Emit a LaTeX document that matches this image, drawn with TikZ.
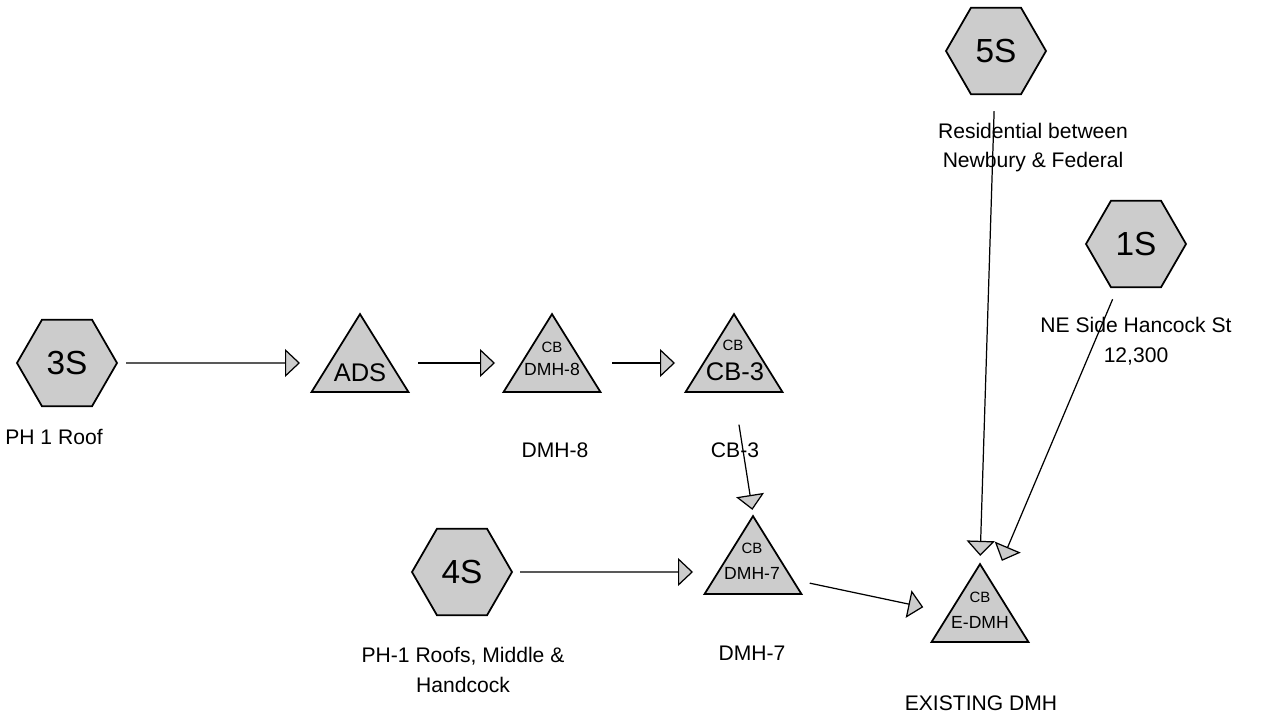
\documentclass[tikz,border=0pt]{standalone}
\usepackage{fontspec}
\setmainfont{Liberation Sans}
\usepackage{tikz}
\usetikzlibrary{shapes.geometric, arrows.meta}

\begin{document}
\begin{tikzpicture}[
    subcat/.style={regular polygon, regular polygon sides=6, minimum size=2cm, inner sep=0pt, draw, line width=1pt, fill=gray!40, font=\fontsize{19}{21}\selectfont},
    pond/.style={isosceles triangle, isosceles triangle stretches, shape border rotate=90, minimum width=1.94cm, minimum height=1.56cm, inner sep=0pt, draw, line width=1pt, fill=gray!40, anchor=south},
    flow/.style={line width=0.7pt, -{Triangle[length=0.3cm, width=0.56cm, fill=gray!40]}},
    lbl/.style={align=center, font=\fontsize{12}{17}\selectfont},
    bigtxt/.style={font=\fontsize{14.5}{16}\selectfont},
    idtxt/.style={font=\fontsize{10}{12}\selectfont},
    cbtxt/.style={font=\fontsize{8.5}{10}\selectfont}
]
    \useasboundingbox (0,0) rectangle (25.28,-14.38);

    % Sous-bassins
    \node[subcat] (n3S) at (1.34,-7.26) {3S};
    \node[subcat] (n4S) at (9.24,-11.44) {4S};
    \node[subcat] (n5S) at (19.92,-1.02) {5S};
    \node[subcat] (n1S) at (22.72,-4.88) {1S};

    % Regards
    \node[pond] (ads) at (7.2,-7.86) {};
    \node[bigtxt] (adsT) at (7.2,-7.46) {ADS};

    \node[pond] (dmh8) at (11.04,-7.86) {};
    \node[cbtxt] (dmh8C) at (11.04,-6.94) {CB};
    \node[idtxt] (dmh8T) at (11.04,-7.38) {DMH-8};

    \node[pond] (cb3) at (14.68,-7.86) {};
    \node[cbtxt] (cb3C) at (14.66,-6.9) {CB};
    \node[bigtxt] (cb3T) at (14.7,-7.44) {CB-3};

    \node[pond] (dmh7) at (15.06,-11.9) {};
    \node[cbtxt] (dmh7C) at (15.04,-10.96) {CB};
    \node[idtxt] (dmh7T) at (15.04,-11.46) {DMH-7};

    \node[pond] (edmh) at (19.6,-12.86) {};
    \node[cbtxt] (edmhC) at (19.6,-11.94) {CB};
    \node[idtxt] (edmhT) at (19.6,-12.44) {E-DMH};

    % Etiquettes
    \node[lbl] (l3S) at (1.08,-8.74) {PH 1 Roof};
    \node[lbl] (ldmh8) at (11.1,-9.0) {DMH-8};
    \node[lbl] (lcb3) at (14.7,-9.0) {CB-3};
    \node[lbl] (l4S) at (9.26,-13.4) {PH-1 Roofs, Middle \&\\Handcock};
    \node[lbl] (ldmh7) at (15.04,-13.06) {DMH-7};
    \node[lbl] (ledmh) at (19.62,-14.06) {EXISTING DMH};
    \node[lbl] (l5S) at (20.66,-2.95) {Residential between\\Newbury \& Federal};
    \node[lbl] (l1S) at (22.72,-6.82) {NE Side Hancock St\\12,300};

    % Fleches
    \draw[flow, shorten <=0.16cm, shorten >=1.2cm] (n3S) -- (n3S -| ads);
    \draw[flow, shorten <=1.16cm, shorten >=1.14cm] (ads |- n3S) -- (dmh8 |- n3S);
    \draw[flow, shorten <=1.2cm, shorten >=1.18cm] (dmh8 |- n3S) -- (cb3 |- n3S);
    \draw[flow, shorten <=0.64cm, shorten >=0.08cm] (cb3.south) -- (dmh7.north);
    \draw[flow, shorten <=0.14cm, shorten >=1.2cm] (n4S) -- (n4S -| dmh7);
    \draw[flow, shorten <=1.16cm, shorten >=1.16cm] ([yshift=-0.08cm]dmh7.center) -- ([yshift=-0.08cm]edmh.center);
    \draw[flow, shorten <=0.32cm, shorten >=0.12cm] (n5S) -- (edmh.north);
    \draw[flow, shorten <=0.24cm, shorten >=0.02cm] (n1S) -- ([xshift=0.43cm]edmh.north);
\end{tikzpicture}
\end{document}
